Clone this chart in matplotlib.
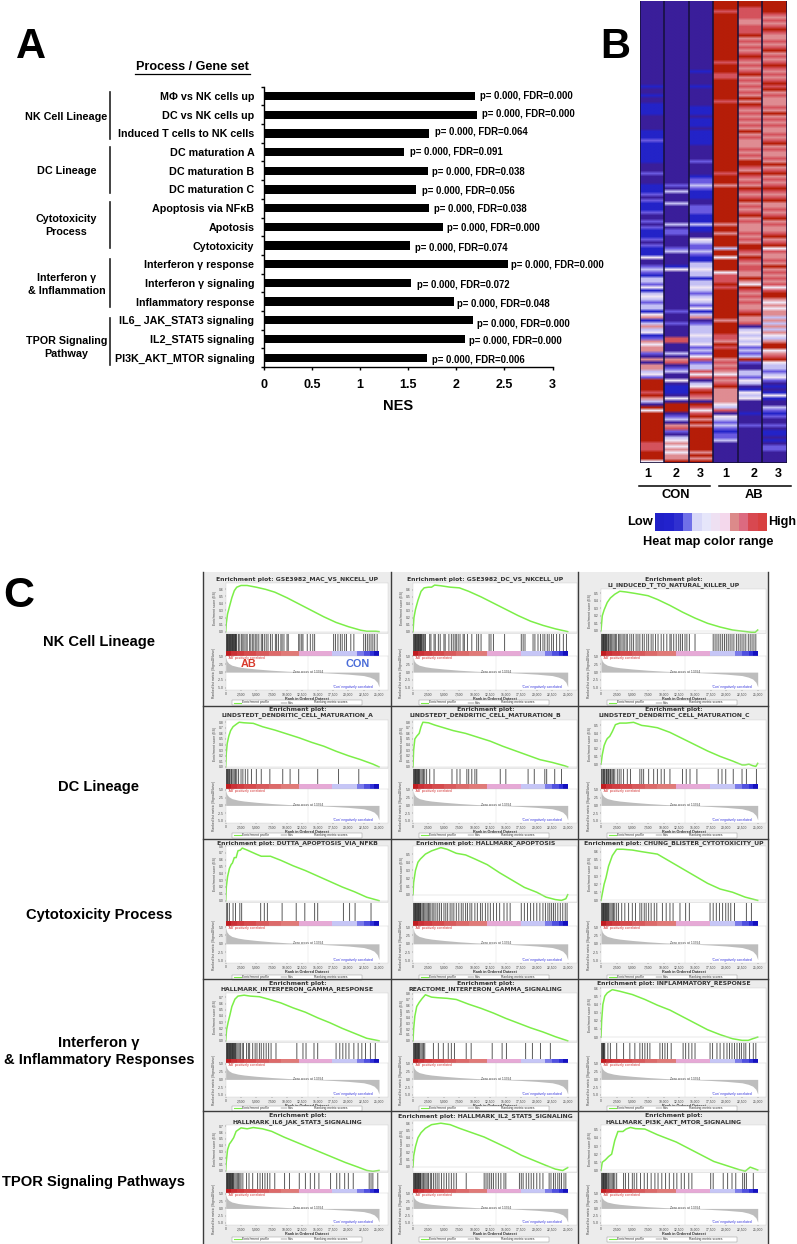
import matplotlib
matplotlib.use("Agg")
import matplotlib.pyplot as plt
from matplotlib.colors import ListedColormap, to_rgb
from matplotlib.patches import Rectangle
import numpy as np

plt.rcParams['font.family'] = ['Liberation Sans', 'DejaVu Sans']

W, H = 797, 1244

# ---------- Panel A data ----------
GENE_SETS = ["MΦ vs NK cells up", "DC vs NK cells up", "Induced T cells to NK cells",
             "DC maturation A", "DC maturation B", "DC maturation C",
             "Apoptosis via NFκB", "Apotosis", "Cytotoxicity",
             "Interferon γ response", "Interferon γ signaling", "Inflammatory response",
             "IL6_ JAK_STAT3 signaling", "IL2_STAT5 signaling", "PI3K_AKT_MTOR signaling"]
NES = [2.19, 2.21, 1.72, 1.46, 1.71, 1.58, 1.72, 1.86, 1.52, 2.54, 1.53, 1.98, 2.17, 2.09, 1.69]
PVAL = ["0.000"] * 15
FDR = ["0.000", "0.000", "0.064", "0.091", "0.038", "0.056", "0.038", "0.000", "0.074",
       "0.000", "0.072", "0.048", "0.000", "0.000", "0.006"]
NES_TICKS = [0, 0.5, 1, 1.5, 2, 2.5, 3]
NES_TICKLABELS = ["0", "0.5", "1", "1.5", "2", "2.5", "3"]
# label nudges (px) as laid out in the reference
LABEL_DX = [5, 5, 6, 6, 4, 6, 5, 4, 5, 3, 6, 3, 4, 4, 5]
LABEL_DY = [0, -1, -1, 0, 1, 2, 1, 1, 2, 1, 2, 2, 4, 2, 2]

GROUPS = [(["NK Cell Lineage"], 117, 92, 139),
          (["DC Lineage"], 171, 147, 193),
          (["Cytotoxicity", "Process"], 225.5, 202, 248),
          (["Interferon γ", "& Inflammation"], 284.5, 259, 307),
          (["TPOR Signaling", "Pathway"], 347.5, 318, 365)]

# ---------- Panel B data (level x row count; each row is 3 px) ----------
HEAT_LEVELS = ['#3a1e9a', '#2323c8', '#6a5ae0', '#c4c0f4', '#f0e6f4', '#df8c92', '#d4525c', '#b51d08']
CON1 = ("0x28 1 0x2 1 0x2 1x4 0x5 1x3 2 1x7 0x3 2 0x3 1x3 2 0 2 1x3 2 0x2 2 0 2 1x3 2 0 2 1x3 4 0x2 2 "
        "3 2 1 3 3 2 4 1 3 4 3 2 3 3 1 4 5 1 3 5 3 4 1 2 5 4 5 5 2 0 5 0 5 5 3 4 2 7x4 6 7 5 3 0 7 4 "
        "7x10 6x3 7x3 4 7x2")
CON2 = ("0x61 2 0 3 0x3 3 0x6 3 0 2x2 0x4 2 3 0x4 1 4 0x13 2 0x3 2 0x4 6x2 0x3 3 0 5 6 0 2 3 0 0 4 0 "
        "1x3 0 4 0 7x3 0 2 3 0 5 6 2 0 3 4 5 4 5 4 5 5 7 6 7 5")
CON3 = ("0x23 1 0x4 1 0x6 1x3 0 1x3 0 1x5 0x5 2 0x4 1 2 2 3 2 1x3 0x2 2x3 1x3 3 1x2 0x2 4 3 2x2 3 2 1x2 "
        "3 3 4 3 3 1 3 3 4 3 2 3 4 3 2 4 1 3 5 0 2 3 3 3 4 3 3 4 2 3 2 4 6 2 3 3 6 4 6 0 3 4 6 7 6 5 0 "
        "7 6 4 6 7 5 7 5 7x8 5 7 5 7x3")
AB1 = ("7x3 6 7x16 6 7x3 6x2 7x7 6 7x23 6 7x3 5 7x12 5 7x2 5 7x4 3 7x2 4 7x4 "
       "4 6x3 7 6 7x10 5 7x4 6x2 5 7 6 7x3 5 6 5 6 5 4 6 5 6 7 5x5 4 3 6 0 4 3 2 3 2 1 2 2 3 0x3")
AB2 = ("7x2 6x4 5x2 6x3 7 5 6 5 6 5 6 7 6 5 6 5 6 7 5 6 5 6 5 6 5 7 5 7 6 5 6 5 6 5 6 5 7 5 6 5x3 6 5 "
       "6 5 7x2 6 5 7 6 5 6 5 7 6 5 6 7 5 6 5 6 7 5 6 5x3 6 5 6 5 7x2 6 5 7 6 5 6 "
       "6 5 5 7 5 4 7 6 5 6 5 6 5 5 6 7 5 5 6 0 3 4 3 4 3 4 2 3 2 3 7 2 0 0 3 3 2 4 3 0 1 4 3 4 0x4 1 "
       "0x3 2 0x13")
AB3 = ("7x4 6 5 6 5 6 7 6 5 5 6 5 6 7 5 6 5 6 7 6 5 6 5 6 7 6 7 5 6 5 5 5 6 5 7 5 6 5 6 5 5 6 5 6 7 "
       "5 6 5 5 6 5 7 5 6 7 5 6 5 6 7 6 5 6 7 5 5 6 5 6 7 5 6 5 5 6 7 5 6 7 4 6 5 5 6 5 7 5 6 5 "
       "6 5 6 4 6 7 7 5 4 5 4 5 5 3 5 3 5 3 5 4 3 5 7 7 4 5 6 7 4 3 3 2 3 4 2 0 1 0 1 4 1 0 0 3 2 1 2 0 0 "
       "2 0 1 1 0 1 0 2 2 0x4")
HEAT_COLUMNS = [CON1, CON2, CON3, AB1, AB2, AB3]
HEAT_ROWS = 154
HEAT_COL_LABELS = ["1", "2", "3", "1", "2", "3"]
COLORBAR_COLORS = ['#2020c8', '#2222cc', '#3030d0', '#7070e8', '#d8d8f8', '#e6e6fa', '#eee0f2', '#f4d8ec',
                   '#dc8a8a', '#dc6a80', '#d84850', '#d84040']

# ---------- Panel C data ----------
TITLES = [["Enrichment plot: GSE3982_MAC_VS_NKCELL_UP"],
          ["Enrichment plot: GSE3982_DC_VS_NKCELL_UP"],
          ["Enrichment plot:", "LI_INDUCED_T_TO_NATURAL_KILLER_UP"],
          ["Enrichment plot:", "LINDSTEDT_DENDRITIC_CELL_MATURATION_A"],
          ["Enrichment plot:", "LINDSTEDT_DENDRITIC_CELL_MATURATION_B"],
          ["Enrichment plot:", "LINDSTEDT_DENDRITIC_CELL_MATURATION_C"],
          ["Enrichment plot: DUTTA_APOPTOSIS_VIA_NFKB"],
          ["Enrichment plot: HALLMARK_APOPTOSIS"],
          ["Enrichment plot: CHUNG_BLISTER_CYTOTOXICITY_UP"],
          ["Enrichment plot:", "HALLMARK_INTERFERON_GAMMA_RESPONSE"],
          ["Enrichment plot:", "REACTOME_INTERFERON_GAMMA_SIGNALING"],
          ["Enrichment plot: INFLAMMATORY_RESPONSE"],
          ["Enrichment plot:", "HALLMARK_IL6_JAK_STAT3_SIGNALING"],
          ["Enrichment plot: HALLMARK_IL2_STAT5_SIGNALING"],
          ["Enrichment plot:", "HALLMARK_PI3K_AKT_MTOR_SIGNALING"]]

ES_CURVES = [
 [(0,0),(100,.12),(300,.25),(600,.35),(1000,.48),(1400,.58),(1800,.63),(2500,.655),(3500,.655),(5000,.63),(6500,.6),(8000,.56),(10000,.48),(12000,.39),(14000,.30),(16000,.21),(18000,.13),(20000,.07),(22000,.02),(23000,.005),(24500,.005),(25000,0)],
 [(0,0),(150,.2),(400,.32),(800,.45),(1300,.58),(1800,.63),(2500,.64),(3000,.64),(3500,.67),(4500,.66),(6000,.64),(7500,.63),(9000,.58),(11000,.5),(13000,.41),(15000,.32),(17000,.23),(19000,.15),(21000,.09),(23000,.04),(25000,0)],
 [(0,0),(200,.2),(500,.28),(1000,.38),(1500,.44),(2200,.49),(3000,.53),(4000,.52),(5500,.5),(7500,.47),(9000,.42),(11000,.34),(13000,.25),(15000,.17),(17000,.1),(19000,.05),(21000,.01),(22500,-.005),(24000,-.02),(24600,-.02),(25000,.01)],
 [(0,0),(100,.25),(250,.42),(500,.55),(800,.65),(1200,.72),(1800,.77),(2200,.8),(3000,.79),(4500,.78),(6000,.72),(8000,.66),(10000,.59),(12000,.52),(14000,.44),(16000,.37),(18000,.28),(20000,.2),(22000,.13),(24000,.05),(25000,0)],
 [(0,0),(100,.3),(300,.5),(600,.55),(1000,.6),(1300,.72),(1600,.8),(2500,.79),(3500,.75),(5000,.7),(6500,.65),(8500,.6),(10500,.53),(12500,.46),(14500,.37),(16500,.29),(18500,.21),(20500,.13),(22500,.08),(24500,.02),(25000,0)],
 [(0,0),(200,.12),(500,.24),(800,.3),(1000,.33),(1400,.36),(1800,.42),(2300,.51),(3000,.53),(4000,.53),(5200,.54),(6500,.5),(7500,.49),(9000,.47),(11000,.41),(13000,.33),(15000,.25),(17000,.17),(19000,.1),(21000,.04),(22500,-.01),(23000,-.01),(23600,0),(24200,-.02),(24700,-.03),(25000,.01)],
 [(0,0),(100,.2),(300,.35),(600,.47),(900,.53),(1100,.55),(1400,.63),(1700,.63),(2000,.73),(2400,.74),(2700,.77),(3500,.74),(5000,.68),(5800,.65),(6500,.65),(7300,.65),(9000,.59),(11000,.51),(13000,.44),(15000,.36),(17000,.28),(19000,.2),(21000,.13),(23000,.05),(25000,0)],
 [(0,0),(100,.15),(400,.3),(800,.4),(1200,.44),(2000,.5),(3000,.54),(4500,.58),(5500,.56),(7000,.51),(8500,.49),(10000,.44),(12000,.37),(14000,.27),(16000,.18),(18000,.09),(20000,.03),(21500,-.03),(23000,-.06),(24000,-.07),(24700,-.05),(25000,0)],
 [(0,0),(200,.08),(500,.2),(800,.28),(1200,.42),(1800,.55),(2500,.63),(3500,.63),(5000,.62),(6500,.6),(9000,.57),(11000,.48),(13000,.39),(15000,.3),(17000,.21),(19000,.14),(21000,.1),(23000,.04),(25000,0)],
 [(0,0),(150,.18),(400,.3),(700,.42),(1000,.55),(1500,.67),(2000,.72),(3000,.735),(4000,.72),(5500,.71),(7000,.67),(9000,.61),(11000,.53),(13000,.46),(15000,.37),(17000,.29),(19000,.2),(21000,.12),(23000,.04),(25000,0)],
 [(0,0),(100,.2),(300,.42),(600,.58),(1000,.65),(1500,.72),(2000,.78),(3000,.74),(4000,.73),(5500,.72),(7000,.7),(9000,.62),(11000,.55),(13000,.47),(15000,.38),(17000,.3),(19000,.22),(21000,.15),(23000,.07),(25000,0)],
 [(0,0),(100,.2),(300,.4),(600,.5),(1000,.54),(1800,.58),(3000,.56),(5000,.52),(7000,.46),(9000,.39),(11000,.33),(13000,.25),(15000,.17),(17000,.09),(19000,.03),(21000,-.02),(22500,-.04),(23500,-.04),(24200,-.02),(25000,0)],
 [(0,0),(100,.15),(300,.33),(600,.42),(900,.46),(1300,.52),(1700,.62),(2500,.675),(3500,.66),(4500,.68),(6000,.66),(7500,.62),(9500,.53),(11500,.45),(13500,.37),(15500,.29),(17500,.21),(19500,.13),(21500,.06),(23000,.005),(24000,-.01),(25000,.005)],
 [(0,0),(100,.15),(400,.28),(800,.4),(1300,.47),(2000,.53),(3000,.58),(4500,.6),(6000,.58),(7500,.53),(9500,.47),(11500,.41),(13500,.33),(15500,.25),(17500,.16),(19500,.09),(21500,.02),(23000,-.03),(24200,-.05),(25000,-.01)],
 [(0,0),(200,.1),(700,.13),(1200,.17),(1700,.2),(2200,.37),(2700,.48),(3500,.48),(4000,.51),(4700,.53),(5500,.515),(7000,.51),(9000,.44),(12000,.35),(14000,.27),(16000,.19),(18000,.11),(20000,.06),(22000,.01),(23000,-.01),(23800,.04),(25000,.005)],
]
ES_RANGE = [(-.02,.69),(-.02,.70),(-.03,.56),(-.02,.84),(-.02,.84),(-.05,.57),(-.02,.80),(-.09,.60),(-.02,.67),
            (-.02,.77),(-.02,.81),(-.06,.60),(-.02,.72),(-.07,.63),(-.02,.56)]
ES_TICKMAX = [.6, .6, .5, .8, .8, .5, .8, .5, .6, .7, .8, .6, .7, .6, .5]

HITS = [
 [.1,.2,.3,.4,.5,.6,.7,.8,.9,1.0,1.1,1.2,1.3,1.4,1.5,1.6,1.7,1.8,2.1,2.3,2.6,2.8,3.0,3.3,3.5,3.9,4.1,4.4,4.6,4.9,5.1,5.4,5.8,6.0,6.3,6.6,6.9,7.3,7.6,8.1,8.3,8.6,9.0,9.2,9.5,10.0,10.2,11.9,12.1,12.4,12.6,13.3,13.8,14.2,14.5,17.6,17.9,18.3,18.7,19.0,19.4,19.7,20.4,20.9,22.5,22.8,23.1,23.4,23.7,24.0,24.3,24.7],
 [.1,.2,.3,.4,.5,.6,.7,.8,.9,1.0,1.1,1.2,1.3,1.4,1.5,1.7,1.9,2.0,2.7,2.9,3.4,3.6,4.1,4.4,5.0,5.2,5.8,6.2,6.5,6.8,7.0,7.3,7.6,8.1,8.3,8.8,9.5,10.3,10.6,11.0,12.3,12.6,13.0,14.8,17.5,17.8,18.1,19.4,19.7,20.2,20.6,21.0,21.3,21.7,22.0,22.4,22.7,23.2,23.7,24.3,24.8],
 [.1,.2,.3,.4,.5,.6,.7,.8,.9,1.0,1.2,1.3,1.5,1.7,1.9,2.1,2.3,2.5,2.8,3.0,3.2,3.5,3.7,4.0,4.2,4.6,4.9,5.2,5.6,5.9,6.2,6.6,6.9,7.3,7.6,8.0,8.3,8.7,9.1,9.6,10.0,10.5,11.0,11.2,11.6,12.0,12.4,12.7,13.0,13.4,13.7,14.1,15.0,17.9,18.2,18.5,18.8,19.1,19.4,19.7,20.0,20.3,20.6,20.9,21.2,21.6,21.9,22.2,22.5,22.8,23.1,23.5,23.8,24.1,24.4,24.7],
 [.1,.2,.3,.45,.6,.7,.9,1.0,1.2,1.4,1.6,1.8,2.1,2.5,2.8,3.2,3.6,4.2,5.0,5.8,7.2,9.3,10.5,11.9,15.0,18.4,21.7],
 [.1,.2,.3,.4,.5,.6,.7,.8,.9,1.0,1.1,1.3,1.5,1.7,1.9,2.2,2.7,3.4,6.3,7.1,7.6,8.7,9.0,9.5,10.0,10.3,14.1,15.0,18.6,19.6,21.3,21.6,22.9,24.0],
 [.1,.2,.4,.5,.6,.8,.9,1.0,1.2,1.3,1.5,1.6,1.8,2.0,2.2,2.6,2.9,3.2,3.6,4.2,4.7,6.2,6.5,6.8,7.6,8.4,9.0,9.6,10.1,11.0,13.0,13.6,14.2,15.3,18.7,19.3,19.9,21.1,22.5,23.2,24.8],
 [.1,.3,.6,1.2,1.6,2.3,2.6,5.7,6.3,6.8,9.2,11.5,12.9,14.5,15.0,19.2,20.2,21.1,23.7],
 [.1,.2,.3,.4,.5,.6,.7,.8,.9,1.0,1.1,1.2,1.3,1.5,1.7,1.9,2.1,2.3,2.5,2.7,2.9,3.2,3.4,3.7,4.0,4.3,4.6,5.0,5.3,5.6,6.0,6.3,6.6,7.0,7.4,7.8,8.1,8.5,8.8,9.2,9.5,10.0,10.4,10.9,11.2,11.7,12.1,12.5,13.0,13.5,14.0,14.7,15.2,15.7,17.5,18.0,18.5,19.0,19.5,20.0,20.5,21.0,21.4,21.8,22.1,22.4,22.7,23.0,23.4,23.8,24.2,24.6,24.9],
 [.1,.2,.3,.4,.5,.6,.7,.8,.9,1.0,1.1,1.2,1.4,1.6,1.8,2.0,2.2,2.5,2.8,3.3,3.8,4.4,5.0,5.5,6.2,6.5,6.9,7.2,7.6,8.0,8.5,8.9,9.8,10.4,11.0,11.5,12.6,13.5,14.1,17.4,17.9,18.4,18.9,19.4,19.9,20.3,20.7,21.3,23.2,24.0],
 [.1,.2,.3,.4,.5,.6,.7,.8,.9,1.0,1.1,1.2,1.3,1.4,1.5,1.6,1.8,2.0,2.2,2.4,2.7,2.9,3.4,3.7,3.9,4.4,4.8,5.1,5.5,5.8,6.2,6.6,7.0,7.4,8.2,11.6,12.6,13.1,14.4,15.0,18.0,18.6,19.1,19.6,20.1,20.9,21.6,22.2,22.8,23.6,24.4],
 [.1,.2,.3,.4,.5,.6,.7,.8,.9,1.0,1.1,1.3,1.5,1.7,1.9,3.3,4.1,4.9,5.7,6.2,6.7,8.6,9.4,12.8,14.4,15.1,18.2,19.3,20.6,22.2],
 [.1,.2,.3,.4,.5,.6,1.1,1.5,2.5,3.6,4.6,5.4,6.2,6.6,7.0,7.4,7.8,9.4,9.8,10.2,10.6,11.2,13.1,13.5,14.0,14.5,15.0,17.4,17.8,18.5,19.0,19.6,20.1,20.5,20.9,21.3,21.7,22.1,22.4,22.8,23.1,23.7,24.3,24.7],
 [.1,.2,.3,.4,.5,.6,.7,.8,.9,1.0,1.1,1.2,1.3,1.5,1.7,1.9,2.1,2.3,2.5,2.8,3.4,3.8,4.4,5.2,5.6,6.0,6.4,6.8,7.2,8.0,9.6,10.4,12.0,13.0,13.8,14.5,15.2,17.1,18.1,18.6,19.4,20.0,20.8,23.4,23.7,24.0,24.8],
 [.1,.2,.3,.4,.5,.6,.7,.8,.9,1.0,1.1,1.2,1.3,1.5,1.7,1.9,2.1,2.3,2.5,2.8,3.0,3.3,3.6,3.9,4.2,4.6,5.0,5.4,5.8,6.2,6.6,7.0,8.6,11.5,11.8,12.1,12.4,12.7,13.0,13.4,13.8,14.2,14.7,15.0,17.2,17.5,17.8,18.3,18.7,19.1,19.5,20.0,20.5,21.0,22.0,22.3,22.7,23.0,23.4,23.7,24.0,24.4,24.7],
 [.1,.2,.3,.4,.5,.6,.7,.8,.9,1.0,1.2,1.4,1.6,1.8,2.0,2.2,2.5,3.6,3.9,4.4,5.0,5.3,5.7,6.3,6.9,7.4,8.0,8.6,9.1,9.7,10.3,10.9,11.6,12.1,12.8,13.3,14.0,14.5,17.5,17.9,19.5,20.2,20.9,21.5,22.6,22.9,23.2,24.3],
]

RANK_X = [0, 200, 500, 1000, 2000, 3000, 5000, 7500, 10000, 12500, 13394, 15000, 17500, 20000, 22500, 23500, 24200, 24700, 25000]
RANK_Y = [4.8, 3.5, 2.8, 2.2, 1.7, 1.4, 1.0, .6, .3, .1, 0, -.12, -.35, -.65, -1.1, -1.6, -2.2, -3.2, -4.7]
RANK_TICKS = [0, 2500, 5000, 7500, 10000, 12500, 15000, 17500, 20000, 22500, 25000]
RANK_TICKLABELS = ["0", "2,500", "5,000", "7,500", "10,000", "12,500", "15,000", "17,500", "20,000", "22,500", "25,000"]
METRIC_TICKS = [-5, -2.5, 0, 2.5, 5]
METRIC_TICKLABELS = ["-5.0", "-2.5", "0.0", "2.5", "5.0"]

GRAD_EDGES = [0, 800, 1800, 3000, 5000, 7000, 9000, 12000, 17400, 21400, 22500, 23600, 24200, 25000]
GRAD_COLORS = ['#c01c20', '#cb3036', '#d13c40', '#d64a4c', '#d85a5c', '#dc6a6a', '#e07a78', '#e6a9d6',
               '#c6c6f6', '#7a7aea', '#5050e0', '#3030d8', '#1410c0']

ROW_LABELS = [(["NK Cell Lineage"], 99, 642), (["DC Lineage"], 99, 787), (["Cytotoxicity Process"], 99, 915),
              (["Interferon γ", "& Inflammatory Responses"], 99, 1051.5), (["TPOR Signaling Pathways"], 94, 1182)]

# ---------- layout (px) ----------
COL_X = [(225.7, 379.0, 388), (413.0, 567.7, 577), (601.0, 757.7, 766)]
ROW_Y = [(583, 634, 651, 655.5, 690, 696, 702.5, 579),
         (720, 769, 784, 789, 823, 828, 835, 709),
         (846, 903, 921, 926, 963, 970, 977, 843),
         (993, 1043, 1059, 1063, 1097, 1102, 1108, 983),
         (1125, 1173, 1189, 1193, 1225, 1232, 1239, 1116)]
ES_TOP_OVERRIDE = {2: 589, 11: 988, 13: 1121}
V_LINES = [203, 391, 578, 768]
H_LINES = [706, 839, 979, 1111]


def box(x0, y0, x1, y1):
    return [x0 / W, 1 - y1 / H, (x1 - x0) / W, (y1 - y0) / H]


fig = plt.figure(figsize=(W / 100, H / 100), dpi=100, facecolor='white')
ov = fig.add_axes([0, 0, 1, 1], zorder=5)
ov.set_xlim(0, W); ov.set_ylim(H, 0); ov.axis('off'); ov.patch.set_alpha(0)
bg = fig.add_axes([0, 0, 1, 1], zorder=0)
bg.set_xlim(0, W); bg.set_ylim(H, 0); bg.axis('off')


def T(x, y, s, size=8, ha='center', va='center', weight='bold', color='black', **kw):
    ov.text(x, y, s, fontsize=size, ha=ha, va=va, fontweight=weight, color=color, **kw)


# ---------- Panel letters ----------
T(16, 47, "A", 30, ha='left')
T(600, 47, "B", 30, ha='left')
T(3, 596, "C", 31, ha='left')

# ---------- Panel A ----------
axA = fig.add_axes(box(264, 86.7, 552.5, 367), zorder=2)
ypos = np.arange(len(NES))
axA.barh(ypos, NES, height=0.44, color='black')
axA.set_xlim(0, 3)
axA.set_ylim(14.48, -0.48)
for s in ('top', 'right'):
    axA.spines[s].set_visible(False)
for s in ('left', 'bottom'):
    axA.spines[s].set_linewidth(1.0)
axA.set_yticks(ypos, GENE_SETS, fontsize=7.75, fontweight='bold')
axA.tick_params(axis='y', which='major', length=0, pad=7)
axA.set_yticks(np.arange(-0.5, 15), minor=True)
axA.tick_params(axis='y', which='minor', length=2.5, width=1, direction='out')
axA.set_xticks(NES_TICKS, NES_TICKLABELS, fontsize=9, fontweight='bold')
axA.tick_params(axis='x', length=2.5, width=1, pad=6)
for i, (v, p, f) in enumerate(zip(NES, PVAL, FDR)):
    axA.annotate(f"p= {p}, FDR={f}", (v, i), xytext=(LABEL_DX[i] * 0.72, -LABEL_DY[i] * 0.72),
                 textcoords='offset points', va='center', ha='left', fontsize=6.9, fontweight='bold')
T(398, 406, "NES", 10.5)
T(192.5, 67, "Process / Gene set", 9.1)
ov.plot([135, 250], [73.5, 73.5], color='black', lw=0.9)
for lines, yc, y0, y1 in GROUPS:
    ov.plot([110, 110], [y0, y1], color='#222222', lw=1.2)
    for k, line in enumerate(lines):
        T(66.5, yc + (k - (len(lines) - 1) / 2) * 13, line, 7.75)

# ---------- Panel B ----------


def decode(tokens):
    out = []
    for tok in tokens.split():
        if 'x' in tok:
            a, b = tok.split('x')
            out += [int(a)] * int(b)
        else:
            out.append(int(tok))
    out = out[:HEAT_ROWS]
    out += [out[-1]] * (HEAT_ROWS - len(out))
    return out


rgb_levels = np.array([to_rgb(c) for c in HEAT_LEVELS])
axB = fig.add_axes(box(639.5, 1, 787, 463), zorder=2)
for ci, tokens in enumerate(HEAT_COLUMNS):
    col_rgb = rgb_levels[decode(tokens)][:, None, :]
    axB.imshow(col_rgb, aspect='auto', interpolation='bilinear',
               extent=(ci - .5, ci + .5, HEAT_ROWS - .5, -.5))
axB.set_xlim(-.5, 5.5); axB.set_ylim(HEAT_ROWS - .5, -.5)
axB.set_xticks([]); axB.set_yticks([])
for s in axB.spines.values():
    s.set_visible(False)
axB.vlines(np.arange(-.5, 6), -.5, HEAT_ROWS - .5, color='#15103a', lw=1.1)
axB.hlines(HEAT_ROWS - .5, -.5, 5.5, color='#15103a', lw=1.2)
for x, s in zip([648, 676, 700, 726, 754, 778], HEAT_COL_LABELS):
    T(x, 474, s, 9)
ov.plot([639, 710], [486, 486], color='black', lw=1.1)
ov.plot([719, 791], [486, 486], color='black', lw=1.1)
T(676, 495, "CON", 9.3)
T(754, 495, "AB", 9.3)
axCB = fig.add_axes(box(655, 513, 766, 531), zorder=2)
axCB.imshow([np.arange(len(COLORBAR_COLORS))], aspect='auto', cmap=ListedColormap(COLORBAR_COLORS), interpolation='nearest')
axCB.axis('off')
T(653, 522, "Low", 9.3, ha='right')
T(768, 522, "High", 9.1, ha='left')
T(708, 542, "Heat map color range", 9.2)

# ---------- Panel C ----------
bg.add_patch(Rectangle((203, 572), 565, 672, facecolor='#ececec', edgecolor='none'))
for x in V_LINES:
    ov.plot([x, x], [572, 1243], color='#3c3c3c', lw=1.0)
for y in H_LINES:
    ov.plot([203, 768], [y, y], color='#3c3c3c', lw=1.0)

TINY = 2.4
for idx in range(15):
    r, c = idx // 3, idx % 3
    x0, x25, xr = COL_X[c]
    es_top, h_top, b_top, b_bot, r_bot, xl_y, lg_y, t_y = ROW_Y[r]
    es_top = ES_TOP_OVERRIDE.get(idx, es_top)
    xlim = (0, 25000 * (xr - x0) / (x25 - x0))

    # title
    tl = TITLES[idx]
    for k, line in enumerate(tl):
        T((x0 + xr) / 2 - 9.5, t_y + k * 5.7, line, 4.4, family='DejaVu Sans', color='#333333')

    # ES
    ax = fig.add_axes(box(x0, es_top, xr, h_top - 1), zorder=2)
    xs, ys = zip(*ES_CURVES[idx])
    ax.plot(xs, ys, color='#7cee48', lw=1.1)
    ax.axhline(0, color='#cccccc', lw=0.3)
    ax.set_xlim(xlim); ax.set_ylim(*ES_RANGE[idx])
    ax.set_xticks([])
    n = int(round(ES_TICKMAX[idx] * 10))
    ax.set_yticks([k / 10 for k in range(n + 1)], [f"{k / 10:.1f}" for k in range(n + 1)])
    ax.tick_params(axis='y', labelsize=TINY, length=0.8, width=0.2, pad=0.8, labelcolor='#444444')
    ax.set_ylabel("Enrichment score (ES)", fontsize=TINY, labelpad=1.2, color='#444444')
    for s in ax.spines.values():
        s.set_linewidth(0.2); s.set_color('#bbbbbb')

    # hits
    ah = fig.add_axes(box(x0, h_top, xr, b_top), zorder=2)
    ah.vlines([v * 1000 for v in HITS[idx]], 0, 1, color='black', lw=0.7, alpha=0.65, snap=False)
    ah.set_xlim(xlim); ah.set_ylim(0, 1); ah.set_xticks([]); ah.set_yticks([])
    for s in ah.spines.values():
        s.set_visible(False)

    # gradient strip
    ag = fig.add_axes(box(x0, b_top, xr, b_bot), zorder=2)
    for e0, e1, col in zip(GRAD_EDGES[:-1], GRAD_EDGES[1:], GRAD_COLORS):
        ag.barh(0, e1 - e0, left=e0, height=1, color=col, linewidth=0)
    ag.set_xlim(xlim); ag.set_ylim(-.5, .5); ag.set_xticks([]); ag.set_yticks([])
    for s in ag.spines.values():
        s.set_visible(False)

    # ranking metric
    am = fig.add_axes(box(x0, b_bot, xr, r_bot), zorder=2)
    am.fill_between(RANK_X, RANK_Y, 0, color='#bdbdbd', lw=0)
    am.axvline(13394, color='#dddddd', lw=0.3)
    am.set_xlim(xlim); am.set_ylim(-5.7, 5.3)
    am.set_xticks(RANK_TICKS, RANK_TICKLABELS)
    am.set_yticks(METRIC_TICKS, METRIC_TICKLABELS)
    am.tick_params(axis='both', labelsize=TINY, length=0.8, width=0.2, pad=0.8, labelcolor='#444444')
    am.set_ylabel("Ranked list metric (Signal2Noise)", fontsize=TINY, labelpad=1.2, color='#444444', y=0.5)
    am.set_xlabel("Rank in Ordered Dataset", fontsize=TINY + .3, labelpad=0.6, color='#333333', fontweight='bold')
    for s in am.spines.values():
        s.set_linewidth(0.2); s.set_color('#bbbbbb')
    am.text(300, 4.6, "'AB' positively correlated", fontsize=TINY, color='#d23030', va='center')
    am.text(13394, 0.1, "Zero cross at 13394", fontsize=TINY, color='#444444', ha='center', va='center')
    am.text(24000, -4.7, "'Con' negatively correlated", fontsize=TINY, color='#3333dd', ha='right', va='center')

    # legend
    lx = x0 + 6
    ov.add_patch(Rectangle((lx, lg_y - 2.5), 130, 5, facecolor='white', edgecolor='#888888', lw=0.3))
    ov.plot([lx + 2, lx + 9], [lg_y, lg_y], color='#7cee48', lw=0.8)
    T(lx + 10, lg_y, "Enrichment profile", TINY, ha='left', weight='normal', color='#333333')
    ov.plot([lx + 49, lx + 55], [lg_y, lg_y], color='#333333', lw=0.3)
    T(lx + 56, lg_y, "Hits", TINY, ha='left', weight='normal', color='#333333')
    T(lx + 82, lg_y, "Ranking metric scores", TINY, ha='left', weight='normal', color='#333333')

T(249, 664, "AB", 7.8, color='#d83a2c')
T(358, 664, "CON", 7.8, color='#4a6cd8')

for lines, xc, yc in ROW_LABELS:
    for k, line in enumerate(lines):
        T(xc, yc + (k - (len(lines) - 1) / 2) * 17, line, 10.6)

fig.savefig("out.png", dpi=100)
